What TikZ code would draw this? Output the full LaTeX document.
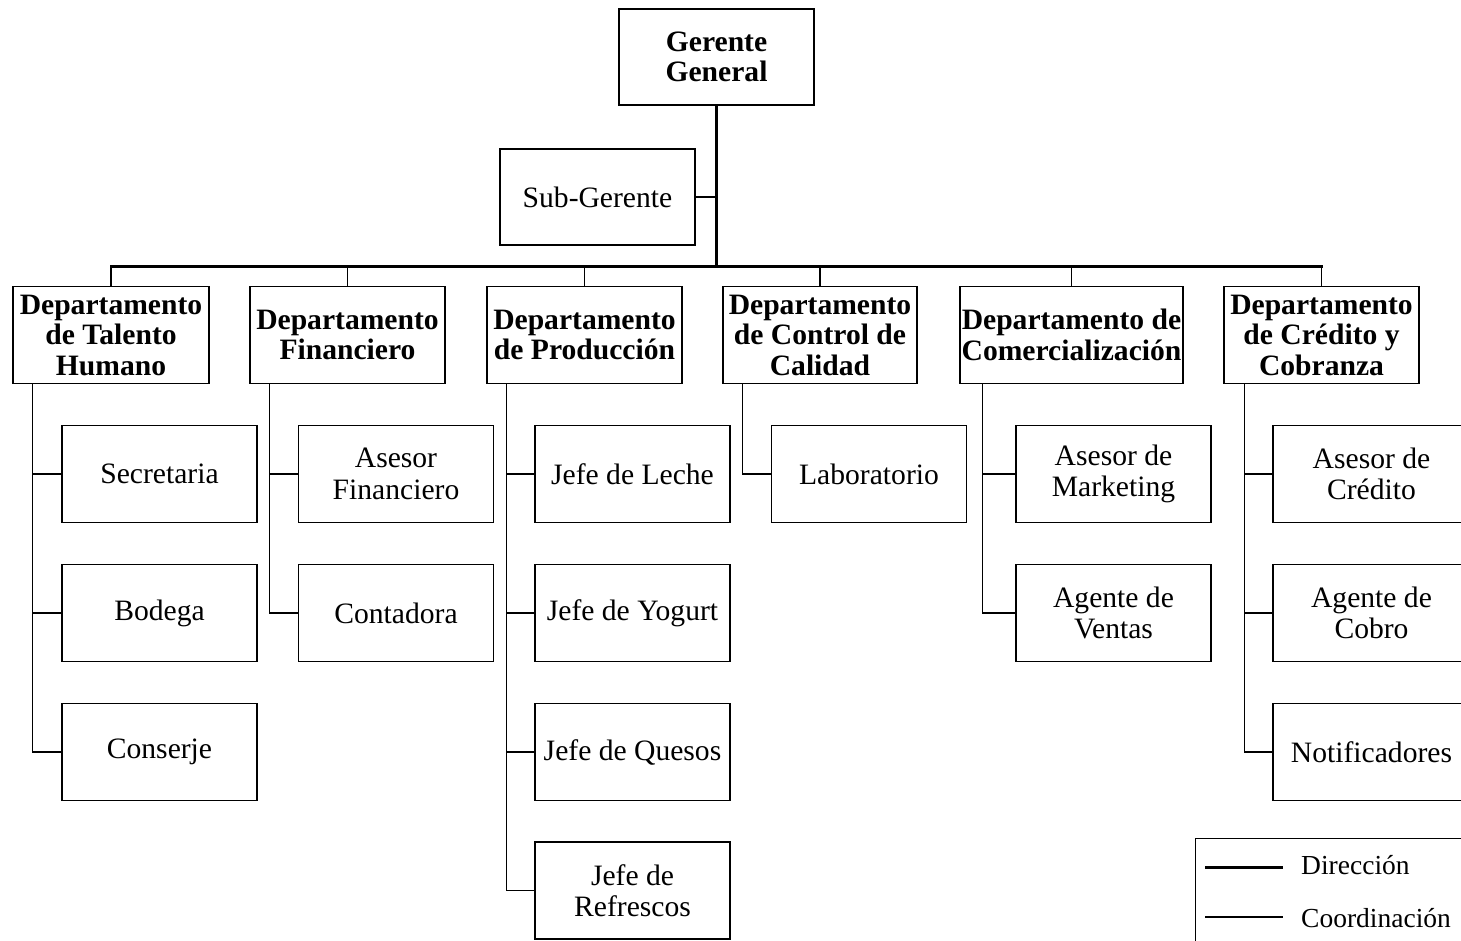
\documentclass[tikz,border=0pt]{standalone}
\usepackage{fontspec}
\setmainfont{Liberation Serif}
\begin{document}
\begin{tikzpicture}[x=1pt,y=-1pt,
  box/.style={draw, line width=1.3pt, minimum width=195pt, minimum height=97pt,
    inner sep=0pt, align=center, font=\fontsize{29.6}{31.5}\selectfont},
  dept/.style={box, font=\fontsize{29.6}{30.5}\selectfont\bfseries},
  mainline/.style={line width=3pt},
  subline/.style={line width=1.3pt},
  legtext/.style={anchor=west, inner sep=0pt, font=\fontsize{27.5}{30}\selectfont}]
\clip (0,0) rectangle (1461,940);
\useasboundingbox (0,0) rectangle (1461,940);

% top management
\node[dept, minimum height=96pt] (gg) at (716.5,57) {Gerente\\General};
\node[box, minimum height=96pt] (sg) at (597.5,197) {Sub-Gerente};

% departments
\node[dept, minimum width=196pt] (d1) at (111,335) {Departamento\\de Talento\\Humano};
\node[dept] (d2) at (347.5,335) {Departamento\\Financiero};
\node[dept] (d3) at (584.5,335) {Departamento\\de Producción};
\node[dept, minimum width=194pt] (d4) at (820,335) {Departamento\\de Control de\\Calidad};
\node[dept, minimum width=223pt] (d5) at (1071.5,335) {Departamento de\\Comercialización};
\node[dept] (d6) at (1321.5,335) {Departamento\\de Crédito y\\Cobranza};

% units under each department
\node[box] (t1) at (159.5,474) {Secretaria};
\node[box] (t2) at (159.5,613) {Bodega};
\node[box] (t3) at (159.5,752) {Conserje};

\node[box] (f1) at (396,474) {Asesor\\Financiero};
\node[box] (f2) at (396,613) {Contadora};

\node[box] (p1) at (632.5,474) {Jefe de Leche};
\node[box] (p2) at (632.5,613) {Jefe de Yogurt};
\node[box] (p3) at (632.5,752) {Jefe de Quesos};
\node[box] (p4) at (632.5,890.5) {Jefe de\\Refrescos};

\node[box] (q1) at (869,474) {Laboratorio};

\node[box] (m1) at (1113.5,474) {Asesor de\\Marketing};
\node[box] (m2) at (1113.5,613) {Agente de\\Ventas};

\node[box, minimum width=197pt] (c1) at (1371.5,474) {Asesor de\\Crédito};
\node[box, minimum width=197pt] (c2) at (1371.5,613) {Agente de\\Cobro};
\node[box, minimum width=197pt] (c3) at (1371.5,752) {Notificadores};

% direction lines
\coordinate (busL) at (111,266);
\coordinate (busR) at (1321.5,266);
\draw[mainline] (gg.south) -- (gg.south |- busL);
\draw[mainline, line cap=rect] (busL) -- (busR);
\draw[subline] (sg.east) -- (sg.east -| gg.south);
\foreach \d in {d1,d2,d3,d4,d5,d6}
  \draw[subline] (\d.north |- busL) -- (\d.north);

% coordination lines
\draw[subline] ([xshift=20pt]d1.south west) |- (t3.west);
\draw[subline] ([xshift=20pt]d1.south west |- t1.west) -- (t1.west);
\draw[subline] ([xshift=20pt]d1.south west |- t2.west) -- (t2.west);

\draw[subline] ([xshift=20pt]d2.south west) |- (f2.west);
\draw[subline] ([xshift=20pt]d2.south west |- f1.west) -- (f1.west);

\draw[subline] ([xshift=20pt]d3.south west) |- (p4.west);
\draw[subline] ([xshift=20pt]d3.south west |- p1.west) -- (p1.west);
\draw[subline] ([xshift=20pt]d3.south west |- p2.west) -- (p2.west);
\draw[subline] ([xshift=20pt]d3.south west |- p3.west) -- (p3.west);

\draw[subline] ([xshift=20pt]d4.south west) |- (q1.west);

\draw[subline] ([xshift=23pt]d5.south west) |- (m2.west);
\draw[subline] ([xshift=23pt]d5.south west |- m1.west) -- (m1.west);

\draw[subline] ([xshift=21pt]d6.south west) |- (c3.west);
\draw[subline] ([xshift=21pt]d6.south west |- c1.west) -- (c1.west);
\draw[subline] ([xshift=21pt]d6.south west |- c2.west) -- (c2.west);

% legend
\node[draw, line width=1.3pt, minimum width=290pt, minimum height=130pt, anchor=north west]
  (leg) at (1195,838) {};
\coordinate (la1) at (1205,867);
\coordinate (lb1) at (1283,867);
\coordinate (la2) at (1205,917);
\coordinate (lb2) at (1283,917);
\draw[mainline] (la1) -- (lb1);
\draw[subline] (la2) -- (lb2);
\node[legtext] (ldir) at (1301,865) {Dirección};
\node[legtext] (lcoo) at (1301,918) {Coordinación};
\end{tikzpicture}
\end{document}
